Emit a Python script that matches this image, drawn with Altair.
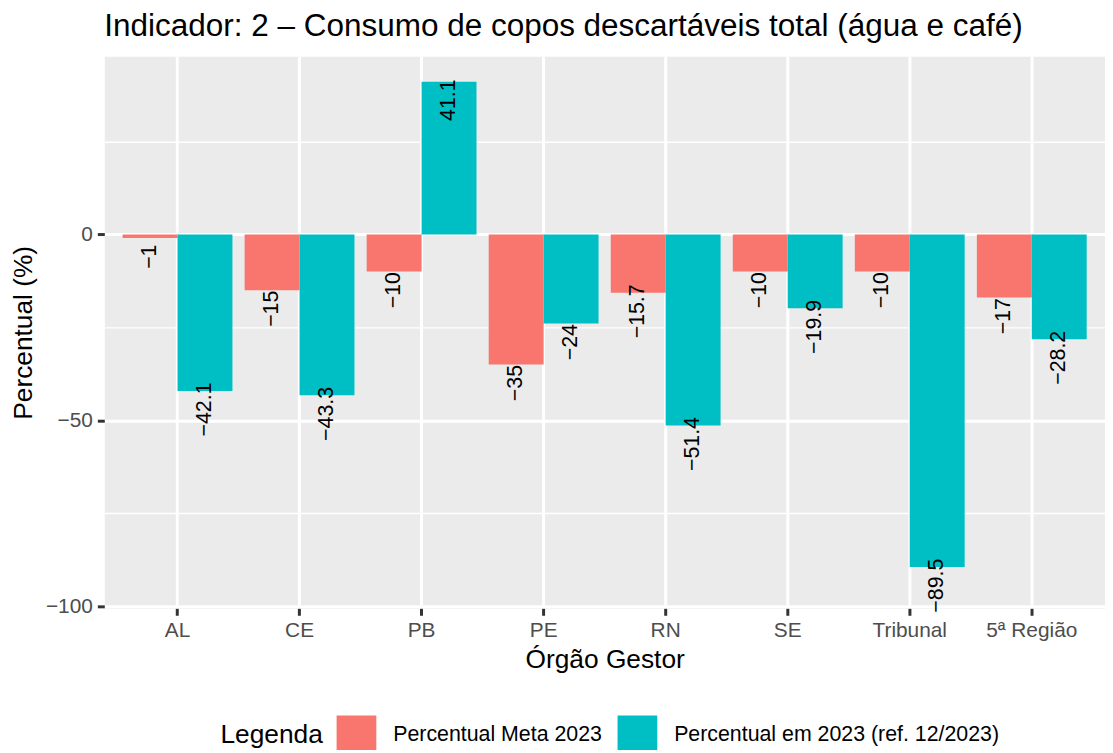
import altair as alt
import pandas as pd

categories = ["AL", "CE", "PB", "PE", "RN", "SE", "Tribunal", "5ª Região"]
meta_2023 = [-1, -15, -10, -35, -15.7, -10, -10, -17]
real_2023 = [-42.1, -43.3, 41.1, -24, -51.4, -19.9, -89.5, -28.2]
series = ["Percentual Meta 2023", "Percentual em 2023 (ref. 12/2023)"]
colors = ["#F8766D", "#00BFC4"]
y_ticks = [-100, -75, -50, -25, 0, 25]

rows = []
for c, m, r in zip(categories, meta_2023, real_2023):
    rows.append({"orgao": c, "serie": series[0], "valor": m})
    rows.append({"orgao": c, "serie": series[1], "valor": r})
df = pd.DataFrame(rows)
df["rotulo"] = df["valor"].map(lambda v: f"{v:g}".replace("-", "\u2212"))

FONT = "Liberation Sans"

x_enc = alt.X(
    "orgao:N",
    sort=categories,
    scale=alt.Scale(paddingInner=0.1, paddingOuter=0.15),
    axis=alt.Axis(
        title="Órgão Gestor",
        labelAngle=0,
        bandPosition=0.5,
        grid=True,
        gridColor="white",
        gridWidth=3,
        domain=False,
        tickColor="#333333",
        tickWidth=3,
        tickSize=7,
        labelPadding=4,
        labelFontSize=21,
        labelColor="#4D4D4D",
        labelFont=FONT,
        titleFont=FONT,
        titleFontSize=26.5,
        titleFontWeight="normal",
        titleColor="black",
        titlePadding=7,
    ),
)

y_enc = alt.Y(
    "valor:Q",
    scale=alt.Scale(domain=[-100.6, 47.9], nice=False, zero=False),
    axis=alt.Axis(
        title="Percentual (%)",
        values=y_ticks,
        labelExpr="datum.value % 50 === 0 ? datum.label : ''",
        grid=True,
        gridColor="white",
        gridWidth=alt.condition("datum.value % 50 === 0", alt.value(3), alt.value(1.5)),
        tickOpacity=alt.condition("datum.value % 50 === 0", alt.value(1), alt.value(0)),
        domain=False,
        tickColor="#333333",
        tickWidth=3,
        tickSize=7,
        labelPadding=5,
        labelFontSize=21,
        labelColor="#4D4D4D",
        labelFont=FONT,
        titleFont=FONT,
        titleFontSize=26.5,
        titleFontWeight="normal",
        titleColor="black",
        titleX=-73,
        titleBaseline="alphabetic",
    ),
)

color_enc = alt.Color(
    "serie:N",
    sort=series,
    scale=alt.Scale(domain=series, range=colors),
    legend=alt.Legend(
        title="Legenda",
        orient="none",
        legendX=117,
        legendY=664,
        direction="horizontal",
        titleOrient="left",
        titleFontSize=26.5,
        titleFont=FONT,
        titleFontWeight="normal",
        titleColor="black",
        titlePadding=13,
        titleBaseline="middle",
        labelFontSize=21.5,
        labelFont=FONT,
        labelColor="black",
        labelOffset=17,
        columnPadding=15,
        symbolType="square",
        symbolSize=1600,
        symbolStrokeWidth=0,
        symbolOpacity=1,
        labelLimit=400,
    ),
)

base = alt.Chart(df)

bars = base.mark_bar(opacity=1).encode(
    x=x_enc,
    xOffset=alt.XOffset("serie:N", sort=series, scale=alt.Scale(paddingInner=0, paddingOuter=0)),
    y=y_enc,
    color=color_enc,
)

labels = base.transform_calculate(pos="datum.valor - 5").mark_text(
    angle=270, align="center", baseline="middle", fontSize=21.5, font=FONT, color="black"
).encode(
    x=alt.X("orgao:N", sort=categories),
    xOffset=alt.XOffset("serie:N", sort=series),
    y=alt.Y("pos:Q"),
    text="rotulo:N",
)

chart = alt.layer(bars, labels).properties(
    width=1008,
    height=556,
    autosize=alt.AutoSizeParams(type="none"),
    padding={"left": 97, "top": 46, "right": 0, "bottom": 140},
    title=alt.TitleParams(
        "Indicador: 2 – Consumo de copos descartáveis total (água e café)",
        anchor="start",
        frame="group",
        fontSize=31.7,
        font=FONT,
        fontWeight="normal",
        color="black",
        baseline="alphabetic",
        offset=-11,
    ),
).configure_view(fill="#EBEBEB", stroke="transparent")

chart.save("out.html", embed_options={"renderer": "svg", "actions": False})
